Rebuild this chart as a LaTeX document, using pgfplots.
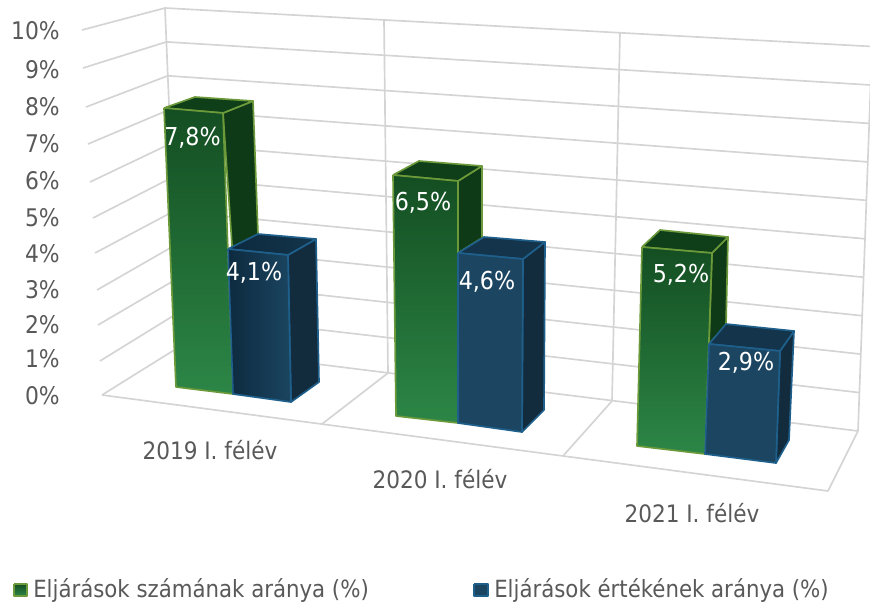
\documentclass[border=0pt]{standalone}
\usepackage{fontspec}
\setmainfont{DejaVu Sans Condensed}
\usepackage{pgfplots}
\pgfplotsset{compat=1.18}
\definecolor{gridc}{HTML}{D4D4D4}
\definecolor{txt}{HTML}{595959}
\definecolor{gline}{HTML}{6C9A3A}
\definecolor{gtop}{HTML}{0F3F19}
\definecolor{gside}{HTML}{0F3A17}
\definecolor{gfa}{HTML}{144E22}
\definecolor{gfb}{HTML}{2C8646}
\definecolor{bline}{HTML}{1F5F8B}
\definecolor{btop}{HTML}{13344A}
\definecolor{bside}{HTML}{122C3D}
\definecolor{bfront}{HTML}{1B4560}
\definecolor{bdark}{HTML}{0D2A3F}
\pgfplotsset{
  g/.style={gridc,line width=1.25pt,mark=none,forget plot},
  gs/.style={draw=gline,line width=1.25pt,line join=round,mark=none,forget plot},
  bs/.style={draw=bline,line width=1.25pt,line join=round,mark=none,forget plot},
}
\begin{document}
\begin{tikzpicture}
\begin{axis}[
  scale only axis,width=652.5pt,height=453pt,
  xmin=0,xmax=870,ymin=0,ymax=604,y dir=reverse,
  axis lines=none,
  ticks=none,
]
\path (axis cs:0,0) rectangle (axis cs:870,604);
% back wall gridlines (10% ... 0%)
\addplot[g] coordinates {(165,8)(872,46.5)};
\addplot[g] coordinates {(166.4,41.9)(870.6,85)};
\addplot[g] coordinates {(167.8,75.8)(869.2,123.4)};
\addplot[g] coordinates {(169.2,109.7)(867.8,161.9)};
\addplot[g] coordinates {(170.6,143.6)(866.4,200.3)};
\addplot[g] coordinates {(172,177.5)(865,238.8)};
\addplot[g] coordinates {(173.4,211.4)(863.6,277.2)};
\addplot[g] coordinates {(174.8,245.3)(862.2,315.7)};
\addplot[g] coordinates {(176.2,279.2)(860.8,354.1)};
\addplot[g] coordinates {(177.6,313.1)(859.4,392.6)};
\addplot[g] coordinates {(179,347)(858,431)};
% side wall gridlines
\addplot[g] coordinates {(82,30)(165,8)};
\addplot[g] coordinates {(83,68)(166.4,41.9)};
\addplot[g] coordinates {(86,107)(167.8,75.8)};
\addplot[g] coordinates {(88,144)(169.2,109.7)};
\addplot[g] coordinates {(90,182)(170.6,143.6)};
\addplot[g] coordinates {(93,218)(172,177.5)};
\addplot[g] coordinates {(95,253)(173.4,211.4)};
\addplot[g] coordinates {(97,290)(174.8,245.3)};
\addplot[g] coordinates {(98,325)(176.2,279.2)};
\addplot[g] coordinates {(100,361)(177.6,313.1)};
\addplot[g] coordinates {(102,395)(179,347)};
% verticals
\addplot[g] coordinates {(165,8)(179,347)};
\addplot[g] coordinates {(384,20)(388,373)};
\addplot[g] coordinates {(620,32)(612,401)};
\addplot[g] coordinates {(872,46.5)(858,431)};
% floor
\addplot[g] coordinates {(102,395)(828,491)};
\addplot[g] coordinates {(828,491)(858,431)};
\addplot[g] coordinates {(388,373)(322,424)};
\addplot[g] coordinates {(612,401)(563,456)};

% 2019 green 7.8
\addplot[gs,fill=gside] coordinates {(223,113)(253,101)(258,234)(233,260)(223,113)};
\addplot[gs,fill=gtop] coordinates {(164,108)(195,97)(253,101)(223,113)(164,108)};
\addplot[gs,top color=gfa,bottom color=gfb] coordinates {(164,108)(223,113)(233,394)(176,387)(164,108)};
% 2019 blue 4.1
\addplot[bs,fill=bside] coordinates {(288,255)(316,239)(319,382)(291,402)(288,255)};
\addplot[bs,left color=bdark,right color=btop] coordinates {(228,249)(258,234)(316,239)(288,255)(228,249)};
\addplot[bs,left color=bdark,right color=bfront] coordinates {(228,249)(288,255)(291,402)(233,394)(228,249)};

% 2020 green 6.5
\addplot[gs,fill=gside] coordinates {(458,181)(482,166)(482,238)(458,253)(458,181)};
\addplot[gs,fill=gtop] coordinates {(393,175)(419,161)(482,166)(458,181)(393,175)};
\addplot[gs,top color=gfa,bottom color=gfb] coordinates {(393,175)(458,181)(458,423)(396,416)(393,175)};
% 2020 blue 4.6
\addplot[bs,fill=bside] coordinates {(523,259)(545,242)(544,410)(522,432)(523,259)};
\addplot[bs,fill=btop] coordinates {(458,253)(484,237)(545,242)(523,259)(458,253)};
\addplot[bs,fill=bfront] coordinates {(458,253)(523,259)(522,432)(458,423)(458,253)};

% 2021 green 5.2
\addplot[gs,fill=gside] coordinates {(712,253)(728,237)(726,325)(709,344)(712,253)};
\addplot[gs,fill=gtop] coordinates {(642,247)(660,230)(728,237)(712,253)(642,247)};
\addplot[gs,top color=gfa,bottom color=gfb] coordinates {(642,247)(712,253)(705,454)(637,446)(642,247)};
% 2021 blue 2.9
\addplot[bs,fill=bside] coordinates {(780,351)(794,331)(789,440)(776,463)(780,351)};
\addplot[bs,fill=btop] coordinates {(709,344)(726,324)(794,331)(780,351)(709,344)};
\addplot[bs,fill=bfront] coordinates {(709,344)(780,351)(776,463)(705,454)(709,344)};

% legend keys
\addplot[gs,top color=gfa,bottom color=gfb] coordinates {(14,584)(27,584)(27,596)(14,596)(14,584)};
\addplot[bs,fill=bfront] coordinates {(474,584)(488,584)(488,596)(474,596)(474,584)};

% value axis labels
\foreach \p/\y in {0/396,1/359,2/325,3/290,4/254,5/218,6/181,7/144,8/107,9/70,10/31}{
  \edef\tmp{\noexpand\node[anchor=east,text=txt,font=\noexpand\fontsize{18.2}{20}\noexpand\selectfont,inner sep=0pt] at (axis cs:60,\y) {\p\noexpand\%};}
  \tmp
}
% category labels
\node[text=txt,font=\fontsize{18}{20}\selectfont,inner sep=0pt] at (axis cs:210,450) {2019 I. félév};
\node[text=txt,font=\fontsize{18}{20}\selectfont,inner sep=0pt] at (axis cs:440,479) {2020 I. félév};
\node[text=txt,font=\fontsize{18}{20}\selectfont,inner sep=0pt] at (axis cs:692,513) {2021 I. félév};
% data labels
\node[text=white,font=\fontsize{18.5}{20}\selectfont,inner sep=0pt] at (axis cs:192.5,138) {7,8\%};
\node[text=white,font=\fontsize{18.5}{20}\selectfont,inner sep=0pt] at (axis cs:254,273) {4,1\%};
\node[text=white,font=\fontsize{18.5}{20}\selectfont,inner sep=0pt] at (axis cs:423,203) {6,5\%};
\node[text=white,font=\fontsize{18.5}{20}\selectfont,inner sep=0pt] at (axis cs:487,282) {4,6\%};
\node[text=white,font=\fontsize{18.5}{20}\selectfont,inner sep=0pt] at (axis cs:681,275) {5,2\%};
\node[text=white,font=\fontsize{18.5}{20}\selectfont,inner sep=0pt] at (axis cs:746,363) {2,9\%};
% legend text
\node[anchor=west,text=txt,font=\fontsize{17.75}{20}\selectfont,inner sep=0pt] at (axis cs:33,590) {Eljárások számának aránya (\%)};
\node[anchor=west,text=txt,font=\fontsize{17.75}{20}\selectfont,inner sep=0pt] at (axis cs:494,590) {Eljárások értékének aránya (\%)};
\end{axis}
\end{tikzpicture}
\end{document}
